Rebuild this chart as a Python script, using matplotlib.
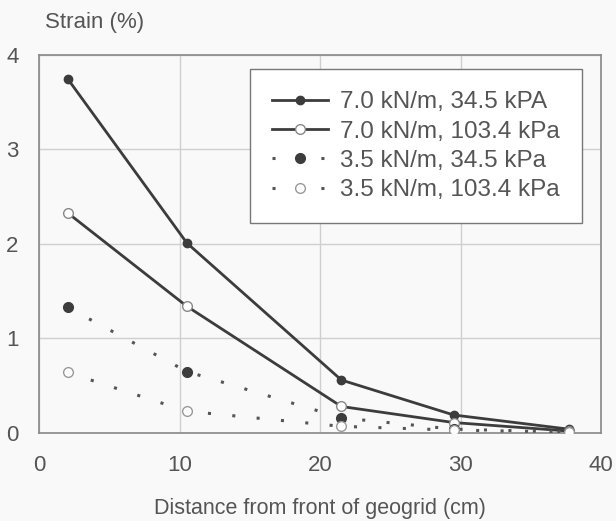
import matplotlib
matplotlib.use("Agg")
import matplotlib.pyplot as plt

plt.rcParams['font.family'] = ['Liberation Sans', 'DejaVu Sans']

x_pos = [2.0, 10.5, 21.5, 29.5, 37.7]
s1 = [3.75, 2.01, 0.56, 0.19, 0.04]   # 7.0 kN/m, 34.5 kPA
s2 = [2.33, 1.34, 0.28, 0.11, 0.02]   # 7.0 kN/m, 103.4 kPa
s3 = [1.33, 0.65, 0.16, 0.04, 0.01]   # 3.5 kN/m, 34.5 kPa
s4 = [0.64, 0.23, 0.07, 0.03, 0.01]   # 3.5 kN/m, 103.4 kPa
labels = ["7.0 kN/m, 34.5 kPA", "7.0 kN/m, 103.4 kPa",
          "3.5 kN/m, 34.5 kPa", "3.5 kN/m, 103.4 kPa"]
xticks = [0, 10, 20, 30, 40]
yticks = [0, 1, 2, 3, 4]

bg = '#f9f9f9'
dark = '#3c3c3c'
txt = '#555555'

fig = plt.figure(figsize=(6.16, 5.21), dpi=100, facecolor=bg)
ax = fig.add_axes([0.064, 0.169, 0.912, 0.7255], facecolor=bg)

ax.plot(x_pos, s1, '-', color=dark, lw=2.0, marker='o', ms=6,
        mfc=dark, mec=dark, label=labels[0], zorder=3)
ax.plot(x_pos, s2, '-', color=dark, lw=2.0, marker='o', ms=7,
        mfc='white', mec='#888888', mew=1.0, label=labels[1], zorder=3)
ax.plot(x_pos, s3, color='#555555', lw=2.2, dashes=(1, 7), marker='o', ms=7,
        mfc=dark, mec=dark, label=labels[2], zorder=3)
ax.plot(x_pos, s4, color='#555555', lw=2.2, dashes=(1, 7), marker='o', ms=7,
        mfc='white', mec='#999999', mew=1.0, label=labels[3], zorder=3)

ax.set_xlim(0, 40)
ax.set_ylim(0, 4)
ax.set_xticks(xticks)
ax.set_yticks(yticks)
ax.grid(True, color='#cfcfcf', lw=1.0)
ax.set_axisbelow(True)
for sp in ax.spines.values():
    sp.set_color('#888888')
    sp.set_linewidth(1.2)
ax.tick_params(axis='both', colors='#888888', labelcolor=txt, labelsize=16,
               length=0)
ax.tick_params(axis='y', pad=15)
ax.tick_params(axis='x', pad=16)

ax.set_xlabel("Distance from front of geogrid (cm)", fontsize=15.5, color=txt,
              labelpad=16)
fig.text(0.073, 0.957, "Strain (%)", fontsize=16, color=txt, ha='left', va='center')

leg = ax.legend(loc='upper right', bbox_to_anchor=(0.965, 0.962), fontsize=17.5,
                frameon=True, fancybox=False, edgecolor='#777777',
                facecolor='white', framealpha=1, handlelength=2.3,
                handletextpad=0.5, borderpad=0.9, labelspacing=0.3,
                borderaxespad=0)
for t in leg.get_texts():
    t.set_color(txt)
leg.get_frame().set_linewidth(1.0)

fig.savefig("out.png", dpi=100, facecolor=bg)
